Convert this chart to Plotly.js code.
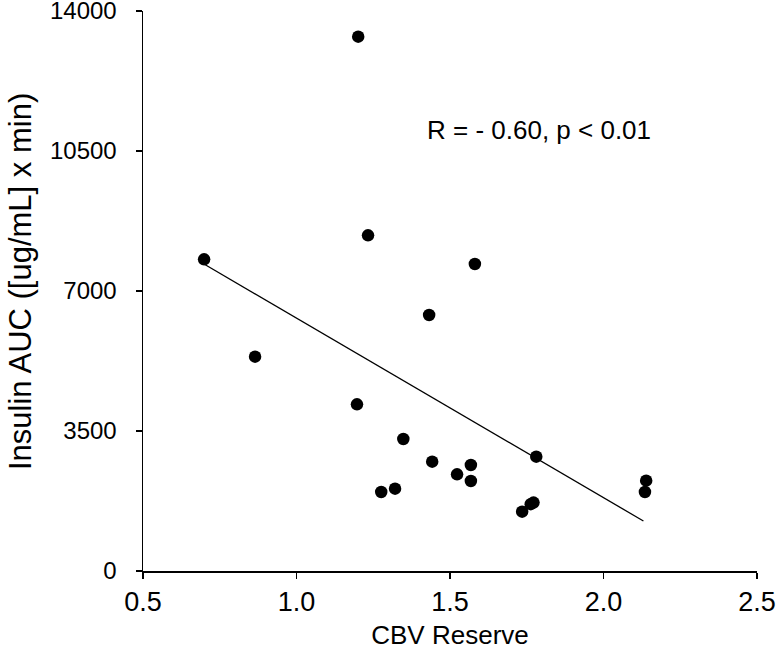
<!DOCTYPE html>
<html>
<head>
<meta charset="utf-8">
<script src="https://cdn.plot.ly/plotly-3.0.1.min.js"></script>
<style>html,body{margin:0;padding:0;background:#fff;}#chart{width:776px;height:656px;}</style>
</head>
<body>
<div id="chart"></div>
<script>
// CBV Reserve (x) vs Insulin AUC (y)
var cbvReserve = [0.699, 0.865, 1.197, 1.201, 1.233, 1.276, 1.321, 1.348, 1.432, 1.442,
                  1.523, 1.568, 1.568, 1.581, 1.735, 1.763, 1.772, 1.781, 2.135, 2.139];
var insulinAUC = [7792, 5358, 4167, 13358, 8392, 1975, 2058, 3300, 6400, 2733,
                  2417, 2650, 2250, 7675, 1483, 1670, 1710, 2858, 1975, 2258];
// regression line end points
var fitX = [0.70, 2.13];
var fitY = [7670, 1250];
var xTicks = [0.5, 1.0, 1.5, 2.0, 2.5];
var xTickText = ["0.5", "1.0", "1.5", "2.0", "2.5"];
var yTicks = [0, 3500, 7000, 10500, 14000];
var yTickText = ["0", "3500", "7000", "10500", "14000"];
var statText = "R = - 0.60, p < 0.01";
var xTitle = "CBV Reserve";
var yTitle = "Insulin AUC ([ug/mL] x min)";

var sans = "Liberation Sans, Arial, sans-serif";

var traces = [
  {x: fitX, y: fitY, mode: "lines", type: "scatter",
   line: {color: "#000", width: 1.3}, hoverinfo: "skip", showlegend: false},
  {x: cbvReserve, y: insulinAUC, mode: "markers", type: "scatter",
   marker: {color: "#000", size: 12.5}, showlegend: false}
];

var layout = {
  width: 776, height: 656,
  margin: {l: 143, r: 19, t: 11, b: 85},
  paper_bgcolor: "#fff", plot_bgcolor: "#fff",
  showlegend: false,
  xaxis: {
    range: [0.5, 2.5], tickmode: "array", tickvals: xTicks, ticktext: xTickText,
    showgrid: false, zeroline: false, showline: true, linecolor: "#000", linewidth: 1.5,
    ticks: "outside", ticklen: 6, tickwidth: 1.5, tickcolor: "#000",
    ticklabeloverflow: "allow",
    tickfont: {family: sans, size: 27, color: "#000"},
    title: {text: xTitle, font: {family: sans, size: 26, color: "#000"}, standoff: 10}
  },
  yaxis: {
    range: [0, 14000], tickmode: "array", tickvals: yTicks, ticktext: yTickText,
    showgrid: false, zeroline: false, showline: true, linecolor: "#000", linewidth: 1.5,
    ticks: "outside", ticklen: 6, tickwidth: 1.5, tickcolor: "#000",
    ticklabeloverflow: "allow",
    tickfont: {family: sans, size: 24, color: "#000"},
    ticklabelstandoff: 14
  },
  annotations: [
    {x: 1.79, y: 11025, xref: "x", yref: "y", text: statText, showarrow: false,
     font: {family: sans, size: 26, color: "#000"}, xanchor: "center", yanchor: "middle"},
    {x: -0.2003, y: 0.516, xref: "paper", yref: "paper", text: yTitle, showarrow: false,
     textangle: -90, font: {family: sans, size: 31, color: "#000"},
     xanchor: "center", yanchor: "middle"}
  ]
};

Plotly.newPlot("chart", traces, layout, {displayModeBar: false, staticPlot: true});
</script>
</body>
</html>
